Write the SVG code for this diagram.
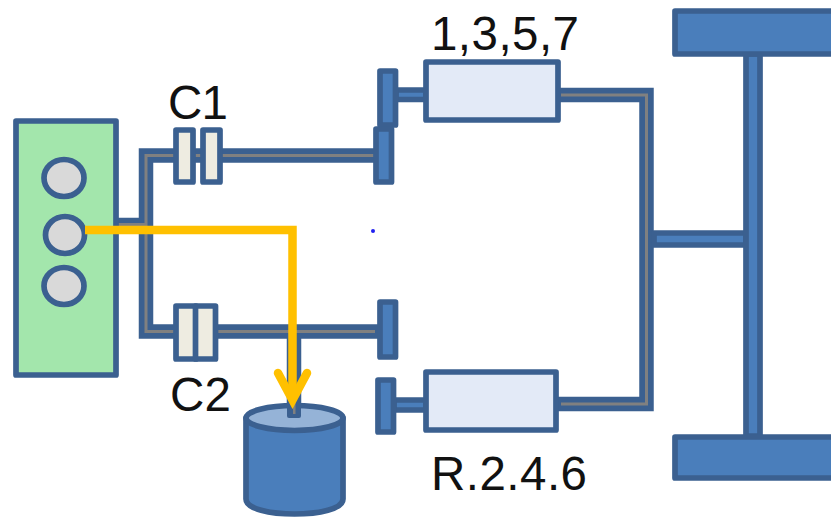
<svg xmlns="http://www.w3.org/2000/svg" width="831" height="519" viewBox="0 0 831 519">
<style>
.b{stroke:#3B6090;stroke-width:5.700;stroke-linejoin:round}
.so{fill:none;stroke:#3B6090;stroke-width:14.500;stroke-linejoin:miter}
.si{fill:none;stroke:#808080;stroke-width:3;stroke-linejoin:miter}
.p{fill:#4A7EBB}
.c{fill:#EEECE1}
.g{fill:#D9D9D9}
.l{fill:#E3EAF7}
.t{font-family:"Liberation Sans",Arial,sans-serif;font-size:47.500px;fill:#111}
.y{fill:none;stroke:#FFC000;stroke-width:8.500}
</style>
<rect width="831" height="519" fill="#fff"/>
<g id="connectors">
<path class="so" d="M116 225H146M378 155.500H146V331.500H378M294 336V415"/>
<path class="si" d="M118 224.500H146M375 155.500H146V331.500H375M294 340V412"/>
<path class="so" d="M558 95H646.500V404H558"/>
<path class="si" d="M561 95H646.500V404H561"/>
<rect class="b p" x="396" y="90" width="30" height="9.500"/>
<rect class="b p" x="394" y="400" width="32" height="10"/>
<rect class="b p" x="654" y="233" width="92" height="12"/>
<rect class="b p" x="746" y="54" width="14" height="382"/>
</g>
<g id="engine">
<rect class="b" x="16" y="121" width="100" height="254" fill="#A3E6AC"/>
<ellipse class="b g" cx="64" cy="178" rx="20" ry="18.500"/>
<ellipse class="b g" cx="65" cy="235" rx="19.500" ry="18.500"/>
<ellipse class="b g" cx="64" cy="286" rx="20" ry="18.500"/>
</g>
<g id="c1">
<rect class="b c" x="176" y="130" width="17" height="52"/>
<rect class="b c" x="203" y="130" width="17" height="52"/>
<text class="t" x="168" y="119" textLength="60">C1</text>
</g>
<g id="c2">
<rect class="b c" x="176" y="306" width="20" height="53"/>
<rect class="b c" x="195.500" y="306" width="20" height="53"/>
<text class="t" x="170" y="411" textLength="61">C2</text>
</g>
<g id="plates">
<rect class="b p" x="380" y="71" width="15.500" height="54"/>
<rect class="b p" x="376" y="129" width="15.500" height="53"/>
<rect class="b p" x="380" y="302" width="15.500" height="55"/>
<rect class="b p" x="378" y="380" width="15.500" height="52"/>
</g>
<g id="gear-odd">
<rect class="b l" x="426" y="62" width="132" height="58"/>
<text class="t" x="431" y="50" textLength="148">1,3,5,7</text>
</g>
<g id="gear-even">
<rect class="b l" x="426" y="372" width="130" height="58"/>
<text class="t" x="431" y="490" textLength="156">R.2.4.6</text>
</g>
<g id="wheels">
<rect class="b p" x="675" y="11" width="170" height="43"/>
<rect class="b p" x="675" y="437" width="170" height="41"/>
</g>
<g id="tank">
<path class="b p" d="M246 418V499C246 519 343 519 343 499V418Z"/>
<ellipse class="b" cx="294.500" cy="418" rx="48.500" ry="12.500" fill="#95B3D7"/>
<rect x="287" y="400" width="14" height="18" rx="2" fill="#3B6090"/>
<rect x="293" y="400" width="2.500" height="14" fill="#808080"/>
</g>
<g id="flow">
<path class="y" d="M85 230H292.500V400"/>
<path class="y" d="M278 373L292.500 400L307 373" stroke-linecap="round"/>
</g>
<circle cx="373" cy="231" r="2" fill="#2020F0"/>
</svg>
